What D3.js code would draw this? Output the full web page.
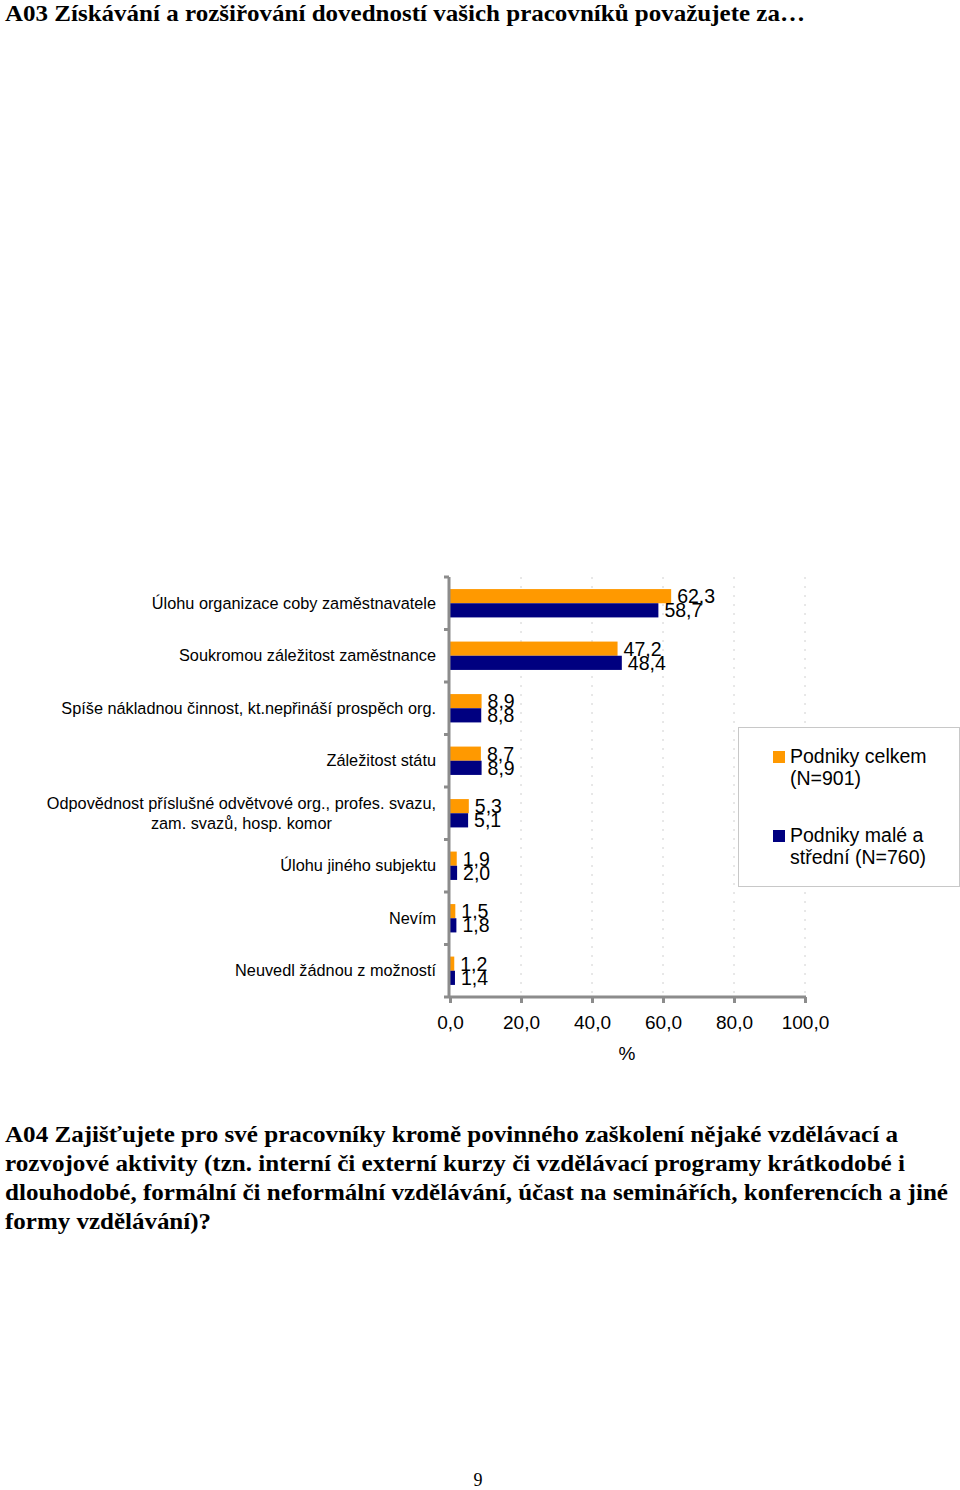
<!DOCTYPE html>
<html><head><meta charset="utf-8">
<script src="https://cdn.jsdelivr.net/npm/d3@7"></script>
<style>body{margin:0;background:#fff}svg{display:block}</style>
</head><body>
<script>
const categories = [
  "Úlohu organizace coby zaměstnavatele",
  "Soukromou záležitost zaměstnance",
  "Spíše nákladnou činnost, kt.nepřináší prospěch org.",
  "Záležitost státu",
  "Odpovědnost příslušné odvětvové org., profes. svazu,|zam. svazů, hosp. komor",
  "Úlohu jiného subjektu",
  "Nevím",
  "Neuvedl žádnou z možností"
];
const seriesNames = ["Podniky celkem|(N=901)", "Podniky malé a|střední (N=760)"];
const totalValues = [62.3, 47.2, 8.9, 8.7, 5.3, 1.9, 1.5, 1.2];
const smeValues   = [58.7, 48.4, 8.8, 8.9, 5.1, 2.0, 1.8, 1.4];
const xTicks = [0, 20, 40, 60, 80, 100];
const colors = ["#FF9900", "#000080"];

const W = 960, H = 1490;
const svg = d3.select("body").append("svg").attr("width", W).attr("height", H);

function fitText(sel, x, y, txt, len, size){
  const t = sel.append("text").attr("x", x).attr("y", y)
    .attr("font-family", "Liberation Serif, Times New Roman, serif")
    .attr("font-weight", "bold").attr("font-size", size).attr("fill", "#000").text(txt);
  if (len) t.attr("textLength", len).attr("lengthAdjust", "spacingAndGlyphs");
  return t;
}
fitText(svg, 5, 21, "A03 Získávání a rozšiřování dovedností vašich pracovníků považujete za…", 800, 23);
const a04 = [
  ["A04 Zajišťujete pro své pracovníky kromě povinného zaškolení nějaké vzdělávací a", 893],
  ["rozvojové aktivity (tzn. interní či externí kurzy či vzdělávací programy krátkodobé i", 900],
  ["dlouhodobé, formální či neformální vzdělávání, účast na seminářích, konferencích a jiné", 943],
  ["formy vzdělávání)?", 206]
];
a04.forEach((d, i) => fitText(svg, 5, 1142 + i * 29, d[0], d[1], 23));
svg.append("text").attr("x", 478).attr("y", 1486).attr("text-anchor", "middle")
  .attr("font-family", "Liberation Serif, Times New Roman, serif").attr("font-size", 18).text("9");

// Chart
const x0 = 450, x1 = 805, yTop = 577, yBot = 997;
const x = d3.scaleLinear().domain([0, 100]).range([x0, x1]);
const y = d3.scaleBand().domain(categories).range([yTop, yBot]).paddingInner(0.46).paddingOuter(0.23);
const sub = d3.scaleBand().domain([0, 1]).range([0, y.bandwidth()]);
const font = "Liberation Sans, Arial, sans-serif";
const axisColor = "#8c8c8c";

// grid
svg.append("g").selectAll("line").data(xTicks.slice(1)).join("line")
  .attr("x1", d => x(d)).attr("x2", d => x(d)).attr("y1", yTop).attr("y2", yBot)
  .attr("stroke", "#d0d0d0").attr("stroke-width", 1).attr("stroke-dasharray", "2,7");

// bars
const series = [totalValues, smeValues];
series.forEach((vals, si) => {
  const g = svg.append("g");
  g.selectAll("rect").data(vals).join("rect")
    .attr("x", x(0)).attr("y", (d, i) => y(categories[i]) + sub(si))
    .attr("width", d => x(d) - x(0)).attr("height", sub.bandwidth())
    .attr("fill", colors[si]);
  g.selectAll("text").data(vals).join("text")
    .attr("x", d => x(d) + 6).attr("y", (d, i) => y(categories[i]) + sub(si) + sub.bandwidth() / 2 + 7)
    .attr("font-family", font).attr("font-size", 19.5).attr("fill", "#000")
    .text(d => d3.format(".1f")(d).replace(".", ","));
});

// x axis
const xAxis = d3.axisBottom(x).tickValues(xTicks).tickSize(6).tickPadding(13)
  .tickFormat(d => d3.format(".1f")(d).replace(".", ","));
const gx = svg.append("g").attr("transform", `translate(0,${yBot})`).call(xAxis);
gx.select(".domain").attr("stroke", axisColor).attr("stroke-width", 3).attr("d", `M${x0 - 1},0H${x1 + 1}`);
gx.selectAll(".tick line").attr("stroke", axisColor).attr("stroke-width", 3);
gx.selectAll(".tick text").attr("font-family", font).attr("font-size", 19).attr("fill", "#000");
svg.append("text").attr("x", 627).attr("y", 1060).attr("text-anchor", "middle")
  .attr("font-family", font).attr("font-size", 19).text("%");

// y axis
const gy = svg.append("g");
gy.append("line").attr("x1", x0 - 1).attr("x2", x0 - 1).attr("y1", yTop).attr("y2", yBot + 1)
  .attr("stroke", axisColor).attr("stroke-width", 3);
const step = (yBot - yTop) / categories.length;
gy.selectAll("line.t").data(d3.range(categories.length + 1)).join("line").attr("class", "t")
  .attr("x1", x0 - 6).attr("x2", x0 - 1).attr("y1", i => yTop + i * step).attr("y2", i => yTop + i * step)
  .attr("stroke", axisColor).attr("stroke-width", 3);

// category labels
const catSize = 16.3;
categories.forEach((c, i) => {
  const cy = y(c) + y.bandwidth() / 2;
  const lines = c.split("|");
  if (lines.length === 1) {
    svg.append("text").attr("x", 436).attr("y", cy + 5.5).attr("text-anchor", "end")
      .attr("font-family", font).attr("font-size", catSize).text(lines[0]);
  } else {
    const t1 = svg.append("text").attr("x", 436).attr("y", cy - 4).attr("text-anchor", "end")
      .attr("font-family", font).attr("font-size", catSize).text(lines[0]);
    const w = t1.node().getComputedTextLength();
    svg.append("text").attr("x", 436 - w / 2).attr("y", cy + 16).attr("text-anchor", "middle")
      .attr("font-family", font).attr("font-size", catSize).text(lines[1]);
  }
});

// legend
const lg = svg.append("g");
lg.append("rect").attr("x", 738.5).attr("y", 727.5).attr("width", 221).attr("height", 159)
  .attr("fill", "#fff").attr("stroke", "#c8c8c8").attr("stroke-width", 1);
seriesNames.forEach((n, i) => {
  const top = 751 + i * 79;
  lg.append("rect").attr("x", 773).attr("y", top).attr("width", 12).attr("height", 12).attr("fill", colors[i]);
  n.split("|").forEach((ln, j) => {
    lg.append("text").attr("x", 790).attr("y", top + 12 + j * 22)
      .attr("font-family", font).attr("font-size", 19.5).text(ln);
  });
});
</script>
</body></html>
